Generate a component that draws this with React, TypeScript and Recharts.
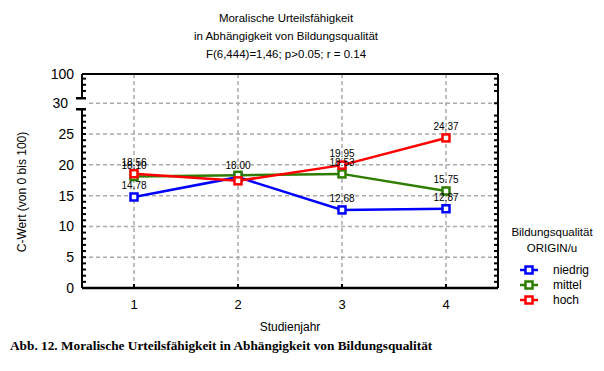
import React from 'react';
import { LineChart, Line, XAxis, YAxis, ReferenceLine, LabelList } from 'recharts';

// ---- data ----
const years = ['1', '2', '3', '4'];
const niedrig = [14.78, 18.0, 12.68, 12.87];
const mittel = [18.1, 18.3, 18.53, 15.75];
const hoch = [18.56, 17.4, 19.95, 24.37];
const seriesNames = ['niedrig', 'mittel', 'hoch'];
const seriesValues = [niedrig, mittel, hoch];
const seriesColors = ['#0000ff', '#2e7d00', '#ff0000'];
// indices whose value labels are hidden (overlapped in the original)
const hiddenLabelIdx: number[][] = [[], [1], [1]];

const yMajorTicks = [0, 5, 10, 15, 20, 25, 30];
const yMinorTicks = [0, 1, 2, 3, 4, 5, 6, 7, 8, 9, 10, 11, 12, 13, 14, 15, 16, 17, 18, 19, 20, 21, 22, 23, 24, 25, 26, 27, 28, 30, 32, 33, 34];
const yTopValue = 34.75;
const yTopLabel = '100';
const yBreakValue = 30;

const titleLines = [
  'Moralische Urteilsfähigkeit',
  'in Abhängigkeit von Bildungsqualität',
  'F(6,444)=1,46; p>0.05; r = 0.14',
];
const yLabel = 'C-Wert (von 0 bis 100)';
const xLabel = 'Studienjahr';
const legendTitle = ['Bildungsqualität', 'ORIGIN/u'];
const caption = 'Abb. 12. Moralische Urteilsfähigkeit in Abhängigkeit von Bildungsqualität';

const FONT = 'Liberation Sans, Arial, sans-serif';
const TS = 4;
const TM = 4;

const rows = years.map((y, i) => {
  const r: any = { year: y };
  seriesNames.forEach((n, s) => {
    r[n] = seriesValues[s][i];
    r[n + '_label'] = hiddenLabelIdx[s].includes(i) ? null : seriesValues[s][i].toFixed(2);
  });
  return r;
});

const allLeftTicks = [...yMinorTicks, yTopValue];

const LeftTick = (props: any) => {
  const { x, y, payload } = props;
  const v = payload.value;
  const axisX = x + TS + TM;
  const isTop = v === yTopValue;
  const label = isTop ? yTopLabel : yMajorTicks.includes(v) ? String(v) : null;
  return (
    <g>
      {v === yBreakValue ? (
        <g>
          <rect x={axisX - 4} y={y - 5} width={8} height={11} fill="#fff" />
          <line x1={axisX - 6} x2={axisX + 4} y1={y - 5} y2={y - 5} stroke="#000" strokeWidth={2.5} />
          <line x1={axisX - 6} x2={axisX + 4} y1={y + 6} y2={y + 6} stroke="#000" strokeWidth={2.5} />
        </g>
      ) : v !== 0 && !isTop ? (
        <line x1={axisX} x2={axisX + 4} y1={y} y2={y} stroke="#000" strokeWidth={2} />
      ) : null}
      {label && (
        <text x={v === yBreakValue ? x - 6 : x} y={y} dy={5} textAnchor="end" fontSize={14} fontFamily={FONT} fill="#000">
          {label}
        </text>
      )}
    </g>
  );
};

const RightTick = (props: any) => {
  const { x, y, payload } = props;
  const v = payload.value;
  const axisX = x - TS - TM;
  if (v === 0) return <g />;
  return <line x1={axisX - 4} x2={axisX} y1={y} y2={y} stroke="#000" strokeWidth={2} />;
};

const BottomTick = (props: any) => {
  const { x, y, payload } = props;
  const axisY = y - TS - TM;
  return (
    <g>
      <line x1={x} x2={x} y1={axisY} y2={axisY - 4} stroke="#000" strokeWidth={2} />
      <text x={x} y={axisY + 21} textAnchor="middle" fontSize={13} fontFamily={FONT} fill="#000">
        {payload.value}
      </text>
    </g>
  );
};

const makeDot = (color: string) => (props: any) => {
  const { cx, cy, index } = props;
  if (cx == null || cy == null) return <g key={index} />;
  return (
    <rect key={index} x={cx - 3.5} y={cy - 3.5} width={7} height={7} fill="#fff" stroke={color} strokeWidth={2.5} />
  );
};

const gridStyle = { stroke: '#ababab', strokeDasharray: '4 3', strokeWidth: 1.5 };

export default function App() {
  return (
    <div style={{ position: 'absolute', left: 0, top: 0, width: 604, height: 371, background: '#fff' }}>
      <LineChart
        width={604}
        height={371}
        data={rows}
        margin={{ top: 74, right: 96, bottom: 53, left: 0 }}
      >
        {yMajorTicks.filter((t) => t !== 0).map((t) => (
          <ReferenceLine key={'h' + t} y={t} yAxisId="left" {...gridStyle} />
        ))}
        {years.map((yy) => (
          <ReferenceLine key={'v' + yy} x={yy} yAxisId="left" {...gridStyle} />
        ))}
        <ReferenceLine y={yTopValue} yAxisId="left" stroke="#000" strokeWidth={2} />
        <XAxis
          dataKey="year"
          type="category"
          padding={{ left: 52, right: 52 }}
          height={30}
          axisLine={{ stroke: '#000', strokeWidth: 2.5 }}
          tickLine={false}
          tickSize={TS}
          tickMargin={TM}
          interval={0}
          tick={<BottomTick />}
        />
        <YAxis
          yAxisId="left"
          width={82}
          domain={[0, yTopValue]}
          type="number"
          ticks={allLeftTicks}
          interval={0}
          allowDataOverflow
          axisLine={{ stroke: '#000', strokeWidth: 2 }}
          tickLine={false}
          tickSize={TS}
          tickMargin={TM}
          tick={<LeftTick />}
        />
        <YAxis
          yAxisId="right"
          orientation="right"
          width={10}
          domain={[0, yTopValue]}
          type="number"
          ticks={yMinorTicks}
          interval={0}
          allowDataOverflow
          axisLine={{ stroke: '#000', strokeWidth: 2 }}
          tickLine={false}
          tickSize={TS}
          tickMargin={TM}
          tick={<RightTick />}
        />
        {seriesNames.map((n, s) => (
          <Line
            key={n}
            yAxisId="left"
            dataKey={n}
            name={n}
            stroke={seriesColors[s]}
            strokeWidth={2.5}
            isAnimationActive={false}
            dot={makeDot(seriesColors[s])}
            activeDot={false}
          >
            <LabelList dataKey={n + '_label'} position="top" offset={8} fontSize={10} fill="#000" fontFamily={FONT} />
          </Line>
        ))}
      </LineChart>
      <svg width={604} height={371} style={{ position: 'absolute', left: 0, top: 0, pointerEvents: 'none' }}>
        {titleLines.map((t, i) => (
          <text key={i} x={286} y={22 + i * 18} textAnchor="middle" fontSize={11.5} fontFamily={FONT} fill="#000">
            {t}
          </text>
        ))}
        <text transform="translate(26,192) rotate(-90)" textAnchor="middle" fontSize={12} fontFamily={FONT} fill="#000">
          {yLabel}
        </text>
        <text x={290} y={331} textAnchor="middle" fontSize={12} fontFamily={FONT} fill="#000">
          {xLabel}
        </text>
        {legendTitle.map((t, i) => (
          <text key={t} x={552} y={236 + i * 16} textAnchor="middle" fontSize={11.5} fontFamily={FONT} fill="#000">
            {t}
          </text>
        ))}
        {seriesNames.map((n, s) => (
          <g key={n}>
            <line x1={520} x2={538} y1={270 + s * 15} y2={270 + s * 15} stroke={seriesColors[s]} strokeWidth={2.5} />
            <rect x={525.5} y={266.5 + s * 15} width={7} height={7} fill="#fff" stroke={seriesColors[s]} strokeWidth={2.5} />
            <text x={553} y={274 + s * 15} fontSize={12} fontFamily={FONT} fill="#000">
              {n}
            </text>
          </g>
        ))}
        <text x={10} y={350} fontSize={13.3} fontWeight="bold" fontFamily="Liberation Serif, Times New Roman, serif" fill="#000">
          {caption}
        </text>
      </svg>
    </div>
  );
}
